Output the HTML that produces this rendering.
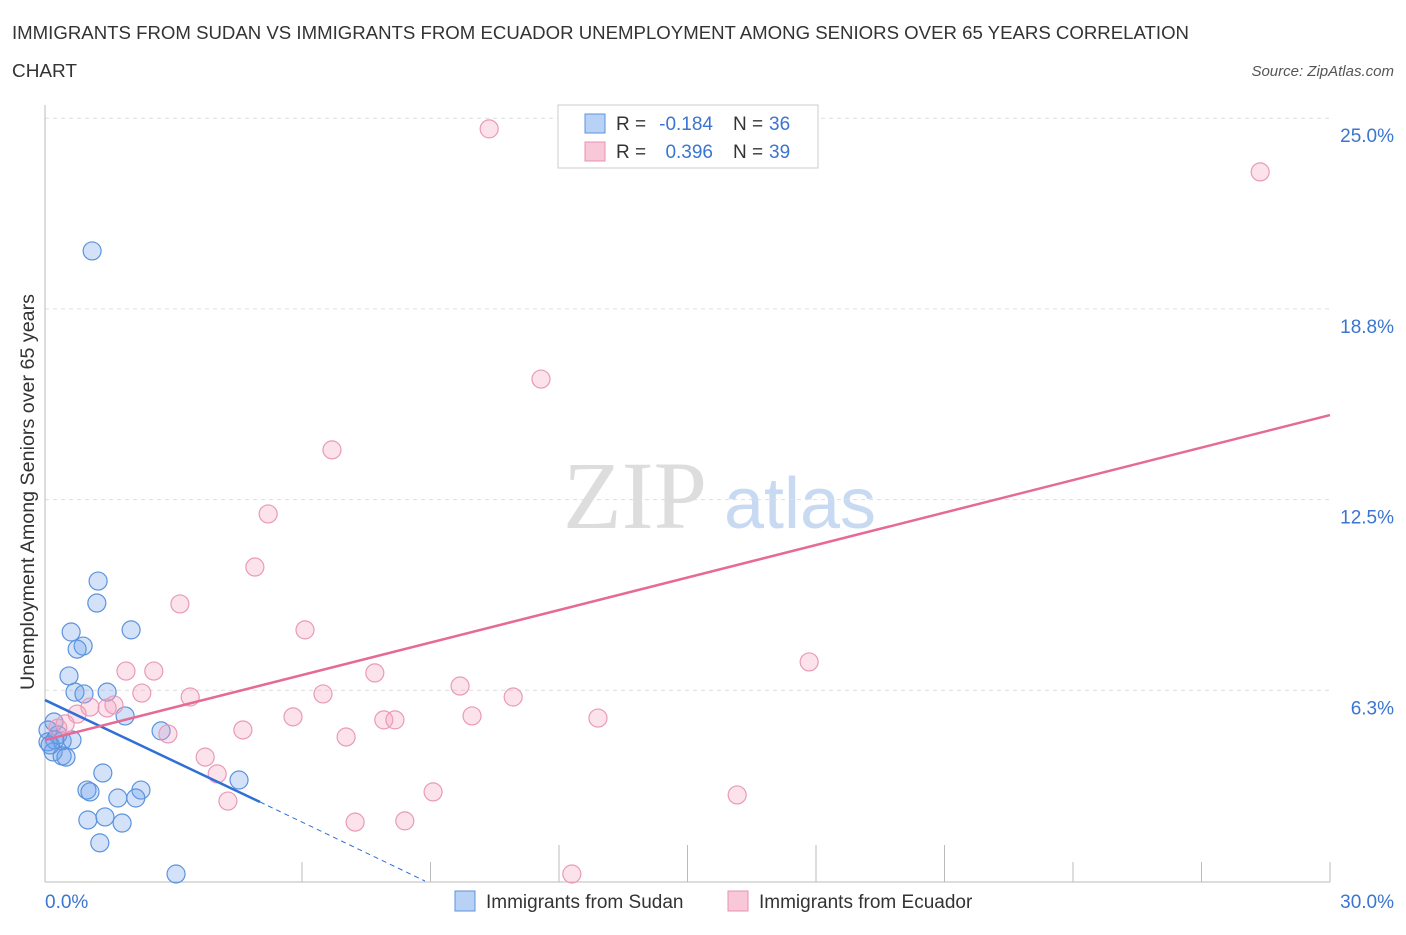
<!DOCTYPE html>
<html><head><meta charset="utf-8"><style>
body{margin:0;background:#fff;font-family:"Liberation Sans",sans-serif;}
</style></head><body>
<svg width="1406" height="930" xmlns="http://www.w3.org/2000/svg" font-family="Liberation Sans, sans-serif">
<text x="12" y="39" font-size="18" fill="#333" textLength="1177" lengthAdjust="spacingAndGlyphs">IMMIGRANTS FROM SUDAN VS IMMIGRANTS FROM ECUADOR UNEMPLOYMENT AMONG SENIORS OVER 65 YEARS CORRELATION</text>
<text x="12" y="77" font-size="18" fill="#333" textLength="65" lengthAdjust="spacingAndGlyphs">CHART</text>
<text x="1394" y="76" font-size="15" fill="#555" font-style="italic" text-anchor="end">Source: ZipAtlas.com</text>
<text x="635" y="528" font-size="96" fill="#ddd" font-family="Liberation Serif, serif" text-anchor="middle">ZIP</text>
<text x="800" y="528" font-size="72" fill="#c8daf2" text-anchor="middle">atlas</text>
<g id="grid"></g>
<g id="marks"></g>
<text x="34" y="492" font-size="19" fill="#333" transform="rotate(-90 34 492)" text-anchor="middle" textLength="396" lengthAdjust="spacingAndGlyphs">Unemployment Among Seniors over 65 years</text>
<text x="45" y="908" font-size="19" fill="#3a75d0">0.0%</text>
<text x="1394" y="908" font-size="19" fill="#3a75d0" text-anchor="end">30.0%</text>
<g>
<rect x="558" y="105" width="260" height="63" fill="#fff" stroke="#ccc"/>
<rect x="585" y="114" width="20" height="19" fill="#b8d2f5" stroke="#5b93dd"/>
<text x="616" y="130" font-size="19" fill="#333">R =</text>
<text x="713" y="130" font-size="19" fill="#3a75d0" text-anchor="end">-0.184</text>
<text x="733" y="130" font-size="19" fill="#333">N =</text>
<text x="769" y="130" font-size="19" fill="#3a75d0">36</text>
<rect x="585" y="142" width="20" height="19" fill="#f8c8d8" stroke="#e890b0"/>
<text x="616" y="158" font-size="19" fill="#333">R =</text>
<text x="713" y="158" font-size="19" fill="#3a75d0" text-anchor="end">0.396</text>
<text x="733" y="158" font-size="19" fill="#333">N =</text>
<text x="769" y="158" font-size="19" fill="#3a75d0">39</text>
</g>
<g>
<rect x="455" y="891" width="20" height="20" fill="#b8d2f5" stroke="#5b93dd"/>
<text x="486" y="908" font-size="19" fill="#333">Immigrants from Sudan</text>
<rect x="728" y="891" width="20" height="20" fill="#f8c8d8" stroke="#e890b0"/>
<text x="759" y="908" font-size="19" fill="#333">Immigrants from Ecuador</text>
</g>
</svg>
<script>
const yTicks=[6.25,12.5,18.75,25];
const yTickLabels=["6.3%","12.5%","18.8%","25.0%"];
const xTickVals=[0,6,9,12,15,18,21,24,27,30];
const sudanX=[1.10,1.24,1.21,0.61,2.01,0.89,0.75,0.56,0.70,0.91,1.45,1.87,2.71,0.21,0.07,0.30,0.07,0.23,0.40,0.63,0.19,0.40,0.49,0.12,1.35,0.98,1.05,2.24,2.12,1.70,4.53,1.00,1.40,1.80,1.28,3.06];
const sudanY=[20.65,9.83,9.11,8.16,8.23,7.70,7.60,6.72,6.19,6.13,6.19,5.41,4.92,5.21,4.95,4.79,4.56,4.62,4.59,4.62,4.23,4.10,4.06,4.46,3.54,2.98,2.92,2.98,2.72,2.72,3.31,2.00,2.10,1.90,1.25,0.23];
const ecuadorX=[10.37,28.37,11.58,6.70,5.21,4.90,3.15,6.07,1.89,2.54,17.84,7.70,9.69,2.26,3.39,6.49,10.93,1.05,1.61,1.45,0.75,5.79,9.97,7.91,8.17,12.91,0.47,0.30,4.62,2.87,7.03,3.74,4.02,16.16,9.06,4.27,7.24,8.40,12.30];
const ecuadorY=[24.65,23.24,16.45,14.13,12.03,10.29,9.08,8.23,6.88,6.88,7.18,6.82,6.39,6.16,6.03,6.13,6.03,5.70,5.77,5.67,5.47,5.38,5.41,5.28,5.28,5.34,5.15,5.01,4.95,4.82,4.72,4.06,3.51,2.82,2.92,2.62,1.93,1.97,0.23];
const sudanTrend=[[0,5.93],[5.02,2.59],[8.87,0]];
const ecuadorTrend=[[0,4.62],[30,15.27]];
const NS="http://www.w3.org/2000/svg";
const X=v=>45+v/30*1285;
const Y=v=>881-v/6.25*190.7;
function mk(tag,attrs,parent){const e=document.createElementNS(NS,tag);for(const k in attrs)e.setAttribute(k,attrs[k]);parent.appendChild(e);return e;}
const grid=document.getElementById('grid'),marks=document.getElementById('marks');
yTicks.forEach((t,i)=>{
 const l=mk('line',{x1:45,x2:1330,y1:Y(t),y2:Y(t),stroke:'#ddd','stroke-dasharray':'4,4'},grid);
 
 
 const tx=mk('text',{x:1394,y:Y(t)+24,'font-size':19,fill:'#3a75d0','text-anchor':'end'},grid);
 tx.textContent=yTickLabels[i];
 
 
});
const ax=mk('line',{x1:45,x2:1330,y1:882,y2:882,stroke:'#bbb'},grid);


const ay=mk('line',{x1:45,x2:45,y1:105,y2:882,stroke:'#bbb'},grid);


xTickVals.forEach(v=>{
 const tall=(v>=12&&v<=21);
 const t=mk('line',{x1:X(v),x2:X(v),y1:tall?845:862,y2:882,stroke:'#bbb'},grid);
 
 
});
function pts(xs,ys,fill,stroke,name){
 xs.forEach((x,i)=>{
  const c=mk('circle',{cx:X(x),cy:Y(ys[i]),r:9,fill:fill,stroke:stroke,'stroke-width':1.2},marks);
  
  
 });
}
pts(sudanX,sudanY,'rgba(110,160,235,0.3)','#5b93dd','sudan-point');
pts(ecuadorX,ecuadorY,'rgba(245,160,190,0.3)','#e99ab8','ecuador-point');
const s1=mk('line',{x1:X(sudanTrend[0][0]),y1:Y(sudanTrend[0][1]),x2:X(sudanTrend[1][0]),y2:Y(sudanTrend[1][1]),stroke:'#2f6fd6','stroke-width':2.5},marks);


const s2=mk('line',{x1:X(sudanTrend[1][0]),y1:Y(sudanTrend[1][1]),x2:X(sudanTrend[2][0]),y2:Y(sudanTrend[2][1]),stroke:'#2f6fd6','stroke-width':1,'stroke-dasharray':'5,4'},marks);


const e1=mk('line',{x1:X(ecuadorTrend[0][0]),y1:Y(ecuadorTrend[0][1]),x2:X(ecuadorTrend[1][0]),y2:Y(ecuadorTrend[1][1]),stroke:'#e56a95','stroke-width':2.5},marks);


</script>
</body></html>
